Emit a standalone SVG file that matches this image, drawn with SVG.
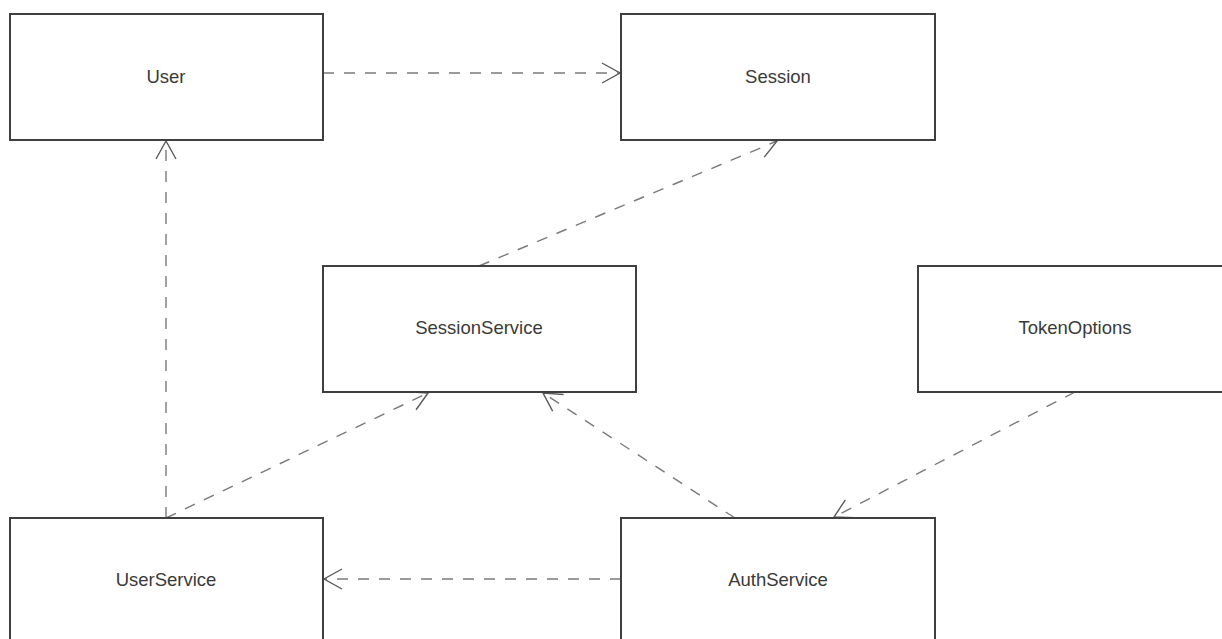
<svg xmlns="http://www.w3.org/2000/svg" width="1222" height="639" viewBox="0 0 1222 639">
<style>
.box{fill:#fff;stroke:#3f3f3f;stroke-width:2}
.lbl{font-family:"Liberation Sans",Arial,sans-serif;font-size:18.5px;fill:#3a3a3a;text-anchor:middle;dominant-baseline:central}
.edge{fill:none;stroke:#7a7a7a;stroke-width:1.4;stroke-dasharray:11 10;marker-end:url(#arr)}
</style>
<defs>
<marker id="arr" viewBox="0 0 20 22" refX="19" refY="11" markerWidth="20" markerHeight="22" markerUnits="userSpaceOnUse" orient="auto">
<path d="M1,1 L19,11 L1,21" fill="none" stroke="#5a5a5a" stroke-width="1.4"/>
</marker>
</defs>
<rect width="1222" height="639" fill="#fff"/>
<g id="connectors">
<line class="edge" x1="323" y1="73" x2="620" y2="73"/>
<line class="edge" x1="479" y1="266" x2="777" y2="141"/>
<line class="edge" x1="166" y1="518" x2="166" y2="141"/>
<line class="edge" x1="166" y1="518" x2="428" y2="393"/>
<line class="edge" x1="735" y1="518" x2="543" y2="393"/>
<line class="edge" x1="1075" y1="392" x2="834" y2="517"/>
<line class="edge" x1="621" y1="579" x2="324" y2="579"/>
</g>
<g id="User"><rect class="box" x="10" y="14" width="313" height="126"/><text class="lbl" x="166" y="76">User</text></g>
<g id="Session"><rect class="box" x="621" y="14" width="314" height="126"/><text class="lbl" x="778" y="76">Session</text></g>
<g id="SessionService"><rect class="box" x="323" y="266" width="313" height="126"/><text class="lbl" x="479" y="327">SessionService</text></g>
<g id="TokenOptions"><rect class="box" x="918" y="266" width="314" height="126"/><text class="lbl" x="1075" y="327">TokenOptions</text></g>
<g id="UserService"><rect class="box" x="10" y="518" width="313" height="130"/><text class="lbl" x="166" y="579">UserService</text></g>
<g id="AuthService"><rect class="box" x="621" y="518" width="314" height="130"/><text class="lbl" x="778" y="579">AuthService</text></g>
</svg>
